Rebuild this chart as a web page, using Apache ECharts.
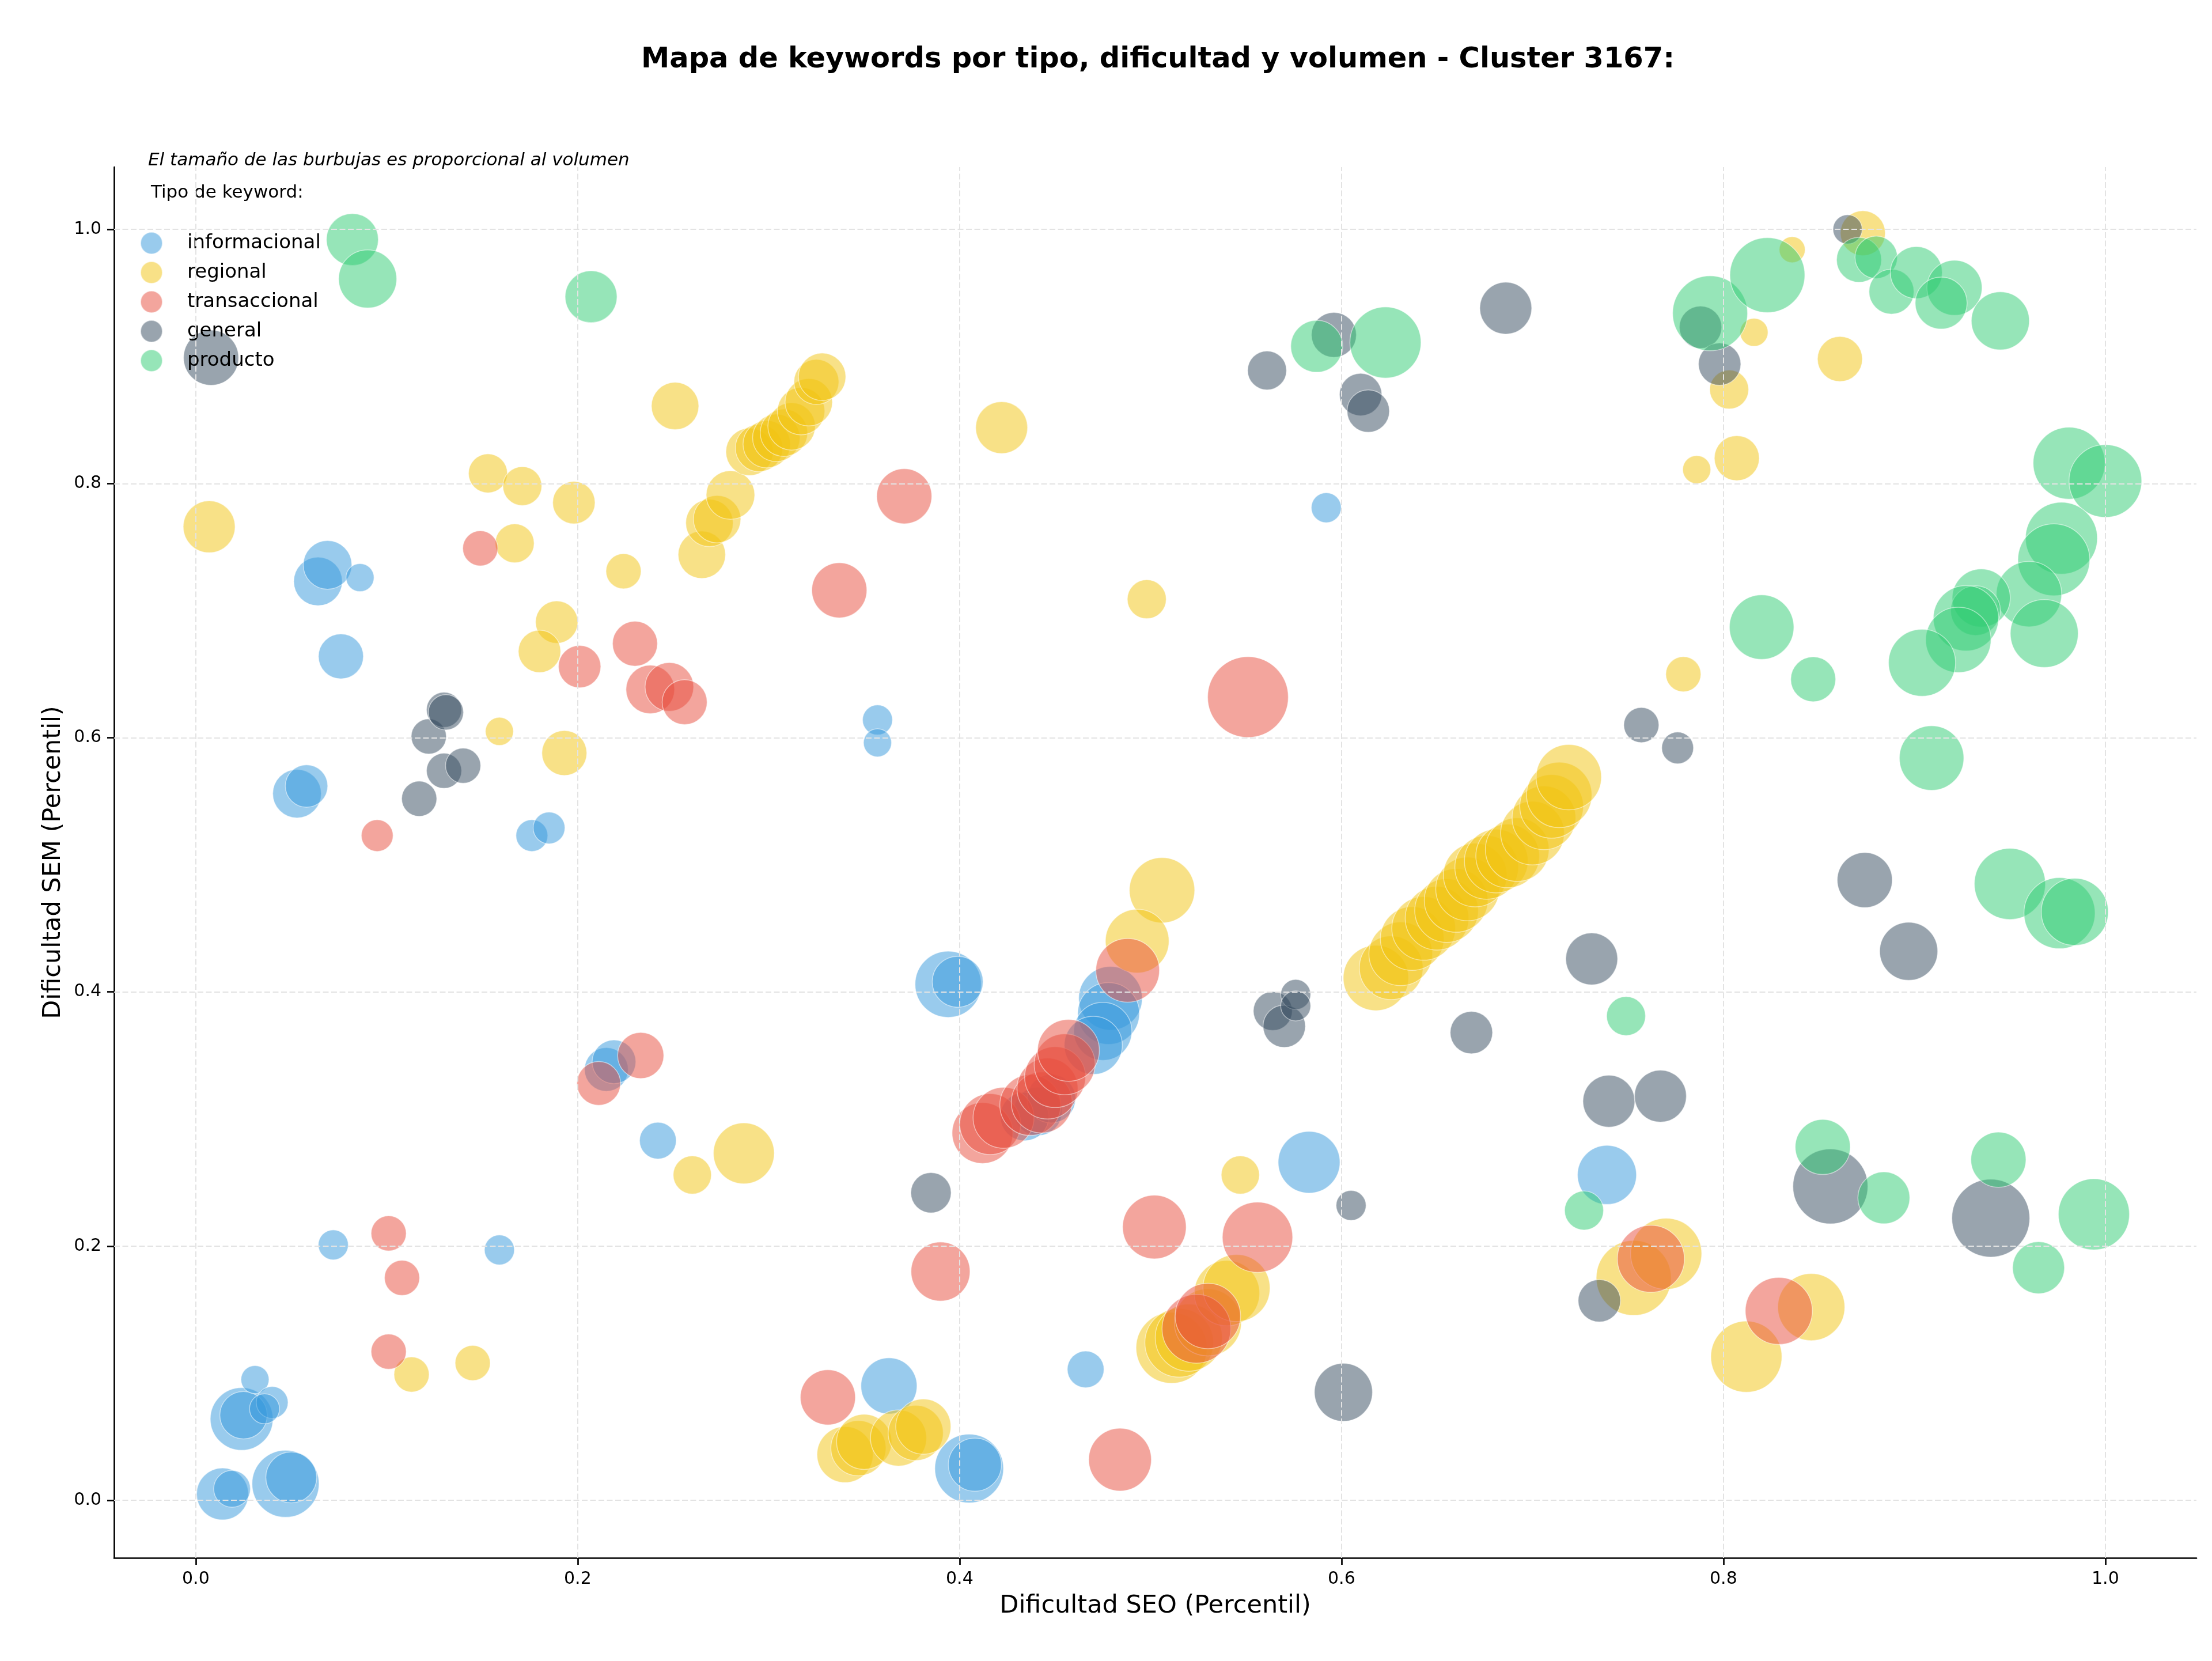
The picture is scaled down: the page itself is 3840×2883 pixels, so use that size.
<!DOCTYPE html>
<html>
<head>
<meta charset="utf-8">
<script src="https://cdn.jsdelivr.net/npm/echarts@6/dist/echarts.min.js"></script>
<style>
  html, body { margin: 0; padding: 0; background: #fff; }
  #chart { width: 3840px; height: 2883px; }
</style>
</head>
<body>
<div id="chart"></div>
<script>
// [dificultad SEO, dificultad SEM, volumen relativo]
const informacional = [
  [0.014,0.005,24],[0.019,0.009,12],[0.047,0.013,40],[0.050,0.018,23],
  [0.024,0.064,35],[0.025,0.067,20],[0.031,0.095,7],[0.040,0.077,9],[0.036,0.072,8],
  [0.072,0.201,8],[0.159,0.197,8],
  [0.053,0.556,21],[0.058,0.562,16],[0.076,0.664,18],
  [0.064,0.723,21],[0.069,0.736,21],[0.086,0.726,7],
  [0.176,0.523,9],[0.185,0.529,9],
  [0.357,0.614,8],[0.357,0.596,7],[0.592,0.781,8],
  [0.215,0.339,17],[0.219,0.345,17],[0.242,0.283,12],
  [0.394,0.406,39],[0.399,0.408,23],
  [0.479,0.395,36],[0.478,0.383,34],[0.475,0.369,30],[0.470,0.358,30],
  [0.441,0.306,21],[0.434,0.302,21],[0.448,0.316,21],
  [0.363,0.090,28],[0.405,0.025,42],[0.408,0.028,25],[0.466,0.103,12],
  [0.583,0.266,34],[0.739,0.256,31]
];
const regional = [
  [0.007,0.766,24],
  [0.153,0.808,13.5],[0.171,0.798,13.5],[0.167,0.753,13.5],[0.198,0.785,16],[0.224,0.731,11],
  [0.159,0.605,7],[0.189,0.691,16],[0.180,0.668,16],[0.193,0.588,18],
  [0.251,0.861,20],
  [0.265,0.744,20],[0.269,0.769,20],[0.273,0.772,20],[0.280,0.791,21],[0.290,0.825,20],
  [0.295,0.828,20],[0.299,0.831,20],[0.304,0.836,20],[0.308,0.840,20],[0.312,0.845,20],
  [0.317,0.857,20],[0.321,0.864,20],[0.325,0.880,18],[0.328,0.884,20],
  [0.422,0.844,24],[0.498,0.709,13.5],
  [0.506,0.480,38],[0.493,0.440,36],
  [0.287,0.273,33],[0.260,0.256,13],
  [0.113,0.099,11],[0.145,0.108,11],
  [0.340,0.036,28],[0.347,0.041,27],[0.350,0.046,27],[0.368,0.049,28],[0.377,0.053,27],[0.381,0.058,27],
  [0.547,0.256,13],
  [0.511,0.120,45],[0.515,0.124,42],[0.520,0.128,40],[0.530,0.140,40],[0.540,0.163,38],[0.545,0.167,40],
  [0.618,0.411,38],[0.626,0.419,36],[0.631,0.430,36],[0.637,0.442,36],[0.643,0.450,36],[0.650,0.458,36],
  [0.655,0.464,36],[0.660,0.472,36],[0.666,0.481,36],[0.670,0.492,36],[0.676,0.498,36],[0.681,0.503,36],
  [0.687,0.507,36],[0.692,0.512,36],[0.700,0.525,36],[0.706,0.537,36],[0.710,0.546,36],[0.714,0.555,38],
  [0.719,0.569,38],
  [0.779,0.650,11],[0.786,0.811,7],[0.807,0.820,18],[0.803,0.874,13.5],[0.816,0.919,7],
  [0.836,0.984,6],[0.861,0.898,18],[0.873,0.997,18],
  [0.753,0.175,50],[0.770,0.194,45],[0.812,0.113,45],[0.846,0.152,40]
];
const transaccional = [
  [0.149,0.749,11],[0.095,0.523,9],[0.201,0.656,16],[0.230,0.674,18],
  [0.238,0.638,21],[0.248,0.640,21],[0.256,0.628,18],
  [0.337,0.716,27],[0.371,0.790,27],[0.551,0.632,58],
  [0.101,0.210,11],[0.108,0.175,11],[0.101,0.117,11],
  [0.211,0.328,17],[0.233,0.350,19],
  [0.412,0.289,33],[0.416,0.296,33],[0.423,0.301,33],[0.437,0.311,33],[0.443,0.313,33],
  [0.446,0.324,33],[0.450,0.333,33],[0.455,0.343,33],[0.457,0.354,34],[0.488,0.417,36],
  [0.390,0.180,31],[0.331,0.081,27],[0.502,0.215,36],[0.556,0.207,44],[0.484,0.032,35],
  [0.524,0.135,42],[0.530,0.145,38],
  [0.762,0.190,40],[0.829,0.149,40]
];
const general = [
  [0.008,0.899,27],
  [0.122,0.601,11],[0.130,0.622,11],[0.131,0.620,11],[0.117,0.552,11],[0.130,0.574,11],[0.140,0.578,11],
  [0.385,0.242,14.5],
  [0.561,0.889,13.5],[0.596,0.917,18],[0.610,0.870,16],[0.614,0.857,16],[0.686,0.938,24],
  [0.564,0.385,13.5],[0.570,0.373,16],[0.576,0.398,8],[0.576,0.389,8],
  [0.605,0.232,8],[0.601,0.085,30],
  [0.668,0.368,16],[0.731,0.426,24],[0.740,0.314,24],[0.767,0.318,24],[0.735,0.157,16],
  [0.757,0.610,11],[0.776,0.592,9],
  [0.788,0.923,16],[0.798,0.894,16],[0.865,1.000,7.6],
  [0.874,0.488,27],[0.897,0.432,30],[0.856,0.247,50],[0.940,0.222,54]
];
const producto = [
  [0.082,0.992,24],[0.090,0.961,30],[0.207,0.947,24],
  [0.587,0.908,24],[0.623,0.911,45],
  [0.793,0.934,50],[0.823,0.964,50],
  [0.871,0.976,18],[0.880,0.978,16],[0.888,0.951,18],[0.901,0.966,24],[0.921,0.954,27],
  [0.914,0.942,24],[0.945,0.928,30],
  [0.981,0.816,46],[1.000,0.802,47],[0.977,0.757,46],[0.973,0.740,46],[0.960,0.713,38],[0.968,0.682,41],
  [0.935,0.710,30],[0.932,0.700,22],[0.927,0.694,38],[0.923,0.677,38],[0.904,0.659,40],
  [0.820,0.687,37],[0.847,0.646,18],[0.909,0.584,37],[0.950,0.485,45],[0.976,0.462,45],[0.984,0.463,40],
  [0.749,0.381,13.5],[0.727,0.228,13.5],[0.852,0.278,27],[0.884,0.238,24],[0.944,0.268,27],
  [0.965,0.183,24],[0.994,0.225,45]
];

const tipos = ['informacional','regional','transaccional','general','producto'];
const colores = ['#3498db','#f1c40f','#e74c3c','#34495e','#2ecc71'];
const tickValues = [0, 0.2, 0.4, 0.6, 0.8, 1.0];

const font = 'DejaVu Sans';
const chart = echarts.init(document.getElementById('chart'));

function bubbleSeries(name, data, color){
  return {
    name: name,
    type: 'scatter',
    data: data,
    symbolSize: v => Math.sqrt(v[2]) * 18.4,
    itemStyle: { color: color, opacity: 0.5, borderColor: '#fff', borderWidth: 1.5 },
    emphasis: { disabled: true },
    z: 2
  };
}

function axisBase(name, gap){
  return {
    type: 'value',
    name: name,
    nameLocation: 'middle',
    nameGap: gap,
    nameTextStyle: { fontSize: 43, fontFamily: font, color: '#000' },
    axisLine: { show: true, onZero: false, lineStyle: { color: '#000', width: 2.7 } },
    axisTick: { show: true, customValues: tickValues, length: 12, lineStyle: { color: '#000', width: 2.7 } },
    axisLabel: { customValues: tickValues, formatter: v => v.toFixed(1), fontSize: 30, fontFamily: font, color: '#000', margin: 22 },
    splitLine: { show: false }
  };
}

const gridLines = tickValues.map(v => ({ xAxis: v })).concat(tickValues.map(v => ({ yAxis: v })));

const option = {
  animation: false,
  backgroundColor: '#fff',
  title: {
    text: 'Mapa de keywords por tipo, dificultad y volumen - Cluster 3167:',
    left: 2005, top: 74, textAlign: 'center',
    textStyle: { fontSize: 49.5, fontWeight: 'bold', fontFamily: font, color: '#000' }
  },
  grid: { left: 198, right: 27, top: 290, bottom: 179 },
  xAxis: Object.assign(axisBase('Dificultad SEO (Percentil)', 62), { min: -0.0428, max: 1.0477 }),
  yAxis: Object.assign(axisBase('Dificultad SEM (Percentil)', 84), { min: -0.0453, max: 1.049 }),
  legend: {
    orient: 'vertical', left: 238, top: 397,
    itemWidth: 114, itemHeight: 38, itemGap: 11,
    icon: 'circle',
    data: tipos,
    textStyle: { fontSize: 34, fontFamily: font, color: '#000' }
  },
  graphic: [
    { type: 'text', x: 257, y: 279, style: { text: 'El tamaño de las burbujas es proporcional al volumen', fontSize: 31, fontStyle: 'italic', fontFamily: font, fill: '#000', verticalAlign: 'middle' } },
    { type: 'text', x: 262, y: 335, style: { text: 'Tipo de keyword:', fontSize: 31, fontFamily: font, fill: '#000', verticalAlign: 'middle' } }
  ],
  series: [
    bubbleSeries(tipos[0], informacional, colores[0]),
    bubbleSeries(tipos[1], regional, colores[1]),
    bubbleSeries(tipos[2], transaccional, colores[2]),
    bubbleSeries(tipos[3], general, colores[3]),
    bubbleSeries(tipos[4], producto, colores[4]),
    {
      type: 'scatter', data: [], silent: true, z: 5,
      markLine: {
        silent: true, symbol: 'none', label: { show: false },
        lineStyle: { type: [10, 4.5], color: '#e3e3e3', width: 2 },
        data: gridLines
      }
    }
  ]
};
chart.setOption(option);
</script>
</body>
</html>
